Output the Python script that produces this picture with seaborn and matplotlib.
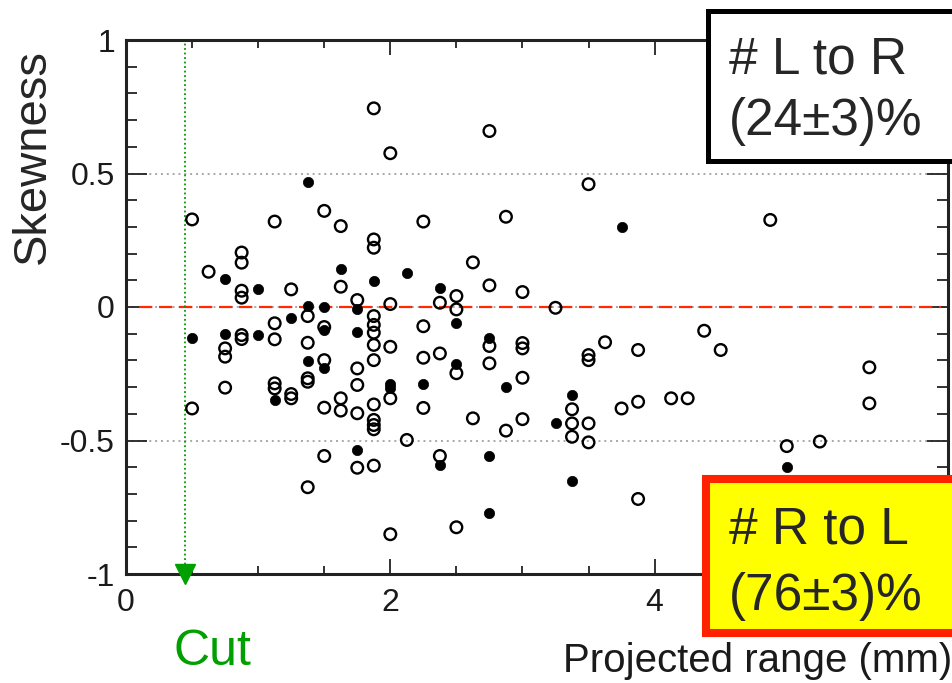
import numpy as np
import pandas as pd
import matplotlib
matplotlib.use("Agg")
import matplotlib.pyplot as plt
from matplotlib.patches import Rectangle
from matplotlib.ticker import MultipleLocator
import seaborn as sns

# events, filled markers (x = projected range in mm, y = skewness)
filled_x = [1.375, 0.75, 1.625, 1.875, 2.125, 1.0, 1.375, 1.5, 3.75, 2.375,
            1.75, 1.25, 1.75, 1.5, 0.5, 0.75, 1.0, 1.375, 1.5, 1.125,
            2.0, 2.0, 1.75, 2.5, 2.75, 2.5, 2.25, 2.875, 3.25, 3.375,
            2.375, 2.75, 3.375, 2.75, 5.0]
filled_y = [0.467, 0.104, 0.143, 0.097, 0.126, 0.066, 0.004, 0.001, 0.298, 0.072,
            -0.009, -0.042, -0.095, -0.086, -0.115, -0.102, -0.105, -0.201, -0.23, -0.348,
            -0.29, -0.302, -0.536, -0.059, -0.115, -0.215, -0.29, -0.301, -0.436, -0.33,
            -0.592, -0.557, -0.65, -0.77, -0.6]

# events, open markers
open_x = [1.875, 2.0, 0.5, 1.125, 1.5, 1.625, 1.875, 1.875, 2.25, 0.875,
          0.875, 0.625, 1.625, 0.875, 0.875, 1.25, 1.75, 2.0,
          2.75, 3.5, 2.875, 2.625, 2.75, 2.5, 3.0, 2.375, 3.25,
          1.875, 1.375, 1.125, 1.875, 1.875, 1.5, 0.875, 0.875, 1.125, 1.375, 1.875,
          2.0, 2.25, 0.75, 0.75, 1.5, 1.875, 1.75, 2.25, 1.375, 1.375, 1.125, 1.125,
          1.25, 1.25, 0.75, 1.75, 2.0, 0.5, 1.5, 1.625, 1.625, 1.75, 1.875, 1.875,
          1.875, 1.875, 2.125, 2.25, 1.5, 1.75, 1.875, 1.375, 2.0,
          2.5, 2.75, 3.0, 3.0, 2.375, 2.5, 2.75, 3.0, 2.625, 2.875, 3.0, 3.375,
          3.375, 3.375, 3.5, 3.5, 3.5, 3.5, 3.625, 3.875, 3.75, 3.875, 4.125, 4.25,
          4.375, 4.5, 2.375, 3.875, 2.5,
          4.875, 5.625, 5.625, 5.0, 5.25]
open_y = [0.744, 0.576, 0.328, 0.32, 0.36, 0.303, 0.253, 0.222, 0.32, 0.204,
          0.166, 0.132, 0.076, 0.061, 0.035, 0.066, 0.026, 0.011,
          0.659, 0.46, 0.338, 0.167, 0.081, 0.041, 0.056, 0.016, -0.003,
          -0.034, -0.034, -0.061, -0.067, -0.096, -0.075, -0.105, -0.12, -0.121, -0.134, -0.142,
          -0.149, -0.072, -0.155, -0.186, -0.199, -0.199, -0.23, -0.19, -0.267, -0.28, -0.286, -0.305,
          -0.326, -0.342, -0.302, -0.292, -0.342, -0.38, -0.377, -0.342, -0.388, -0.398, -0.365, -0.423,
          -0.442, -0.458, -0.498, -0.378, -0.558, -0.602, -0.594, -0.675, -0.851,
          -0.009, -0.146, -0.135, -0.155, -0.174, -0.248, -0.211, -0.265, -0.417, -0.463, -0.42, -0.383,
          -0.436, -0.486, -0.436, -0.507, -0.18, -0.199, -0.132, -0.161, -0.38, -0.355, -0.342, -0.342,
          -0.089, -0.161, -0.558, -0.719, -0.825,
          0.326, -0.226, -0.361, -0.521, -0.504]

x_ticks = [0, 2, 4]
x_tick_labels = ["0", "2", "4"]
y_ticks = [-1, -0.5, 0, 0.5, 1]
y_tick_labels = ["-1", "-0.5", "0", "0.5", "1"]

cut_x = 0.45
zero_line_span = (0.1, 6.17)
box_lr = ["# L to R", "(24\u00b13)%"]
box_rl = ["# R to L", "(76\u00b13)%"]

df = pd.concat([
    pd.DataFrame({"x": filled_x, "y": filled_y, "kind": "filled"}),
    pd.DataFrame({"x": open_x, "y": open_y, "kind": "open"}),
], ignore_index=True)

sns.set_style("ticks")
plt.rcParams["font.family"] = ["Liberation Sans", "DejaVu Sans"]

W, H = 952, 683
fig = plt.figure(figsize=(W / 100, H / 100), dpi=100)
ax = fig.add_axes([126 / W, 1 - 574 / H, (948 - 126) / W, (574 - 40) / H])

# grid + reference lines
ax.yaxis.grid(True, linestyle=(0, (1, 2)), color="#a8a8a8", linewidth=1.4)
ax.hlines(0, *zero_line_span, colors="#ff2a00", linestyles=(0, (6, 3)), linewidth=1.6, zorder=2)
ax.vlines(cut_x, -0.98, 1, colors="#009900", linestyles=(0, (1, 1.5)), linewidth=1.3, zorder=2)
ax.plot([cut_x], [-1.0], marker="v", markersize=14, color="#00a000", clip_on=False, zorder=5)

sns.scatterplot(data=df[df.kind == "open"], x="x", y="y", ax=ax, marker="o", s=70,
                color="black", facecolor="none", edgecolor="black", linewidth=1.7, zorder=3)
sns.scatterplot(data=df[df.kind == "filled"], x="x", y="y", ax=ax, marker="o", s=55,
                color="black", edgecolor="black", linewidth=0.5, zorder=4)

ax.set_xlim(0, 6.22)
ax.set_ylim(-1, 1)
ax.set_xticks(x_ticks)
ax.set_xticklabels(x_tick_labels)
ax.set_yticks(y_ticks)
ax.set_yticklabels(y_tick_labels)
ax.xaxis.set_minor_locator(MultipleLocator(0.5))
ax.yaxis.set_minor_locator(MultipleLocator(0.1))
ax.tick_params(which="both", direction="in", top=True, right=True, width=1.3,
               color="#222222", labelsize=23, labelcolor="#1a1a1a")
ax.tick_params(axis="x", which="major", length=11, pad=10)
ax.tick_params(axis="x", which="minor", length=6)
ax.tick_params(axis="y", which="major", length=15, pad=8)
ax.tick_params(axis="y", which="minor", length=8)
for sp in ax.spines.values():
    sp.set_linewidth(2.2)
    sp.set_color("#222222")
ax.set_xlabel("")
ax.set_ylabel("")


def fx(px):
    return px / W


def fy(py):
    return 1 - py / H


# annotation boxes (drawn on the figure so they cover the axes)
fig.patches.append(Rectangle((fx(707.5), fy(160.5)), fx(980) - fx(707.5), fy(10.5) - fy(160.5),
                             transform=fig.transFigure, facecolor="white", edgecolor="black",
                             linewidth=3.6, zorder=2))
fig.patches.append(Rectangle((fx(706), fy(632.5)), fx(980) - fx(706), fy(479) - fy(632.5),
                             transform=fig.transFigure, facecolor="#ffff00", edgecolor="#ff2200",
                             linewidth=5.8, zorder=2))

fig.text(fx(729), fy(73), box_lr[0], fontsize=37, va="baseline", ha="left", zorder=4)
fig.text(fx(729), fy(135), box_lr[1], fontsize=37, va="baseline", ha="left", zorder=4)
fig.text(fx(729), fy(543), box_rl[0], fontsize=37, va="baseline", ha="left", zorder=4)
fig.text(fx(729), fy(610), box_rl[1], fontsize=37, va="baseline", ha="left", zorder=4)

fig.text(fx(173), fy(665), "Cut", fontsize=36, color="#00a000", va="baseline", ha="left")
fig.text(fx(952), fy(672), "Projected range (mm)", fontsize=29, color="#1a1a1a",
         va="baseline", ha="right")
fig.text(fx(33), fy(156), "Skewness", fontsize=34, rotation=90, va="center", ha="center")

fig.savefig("out.png", dpi=100)
